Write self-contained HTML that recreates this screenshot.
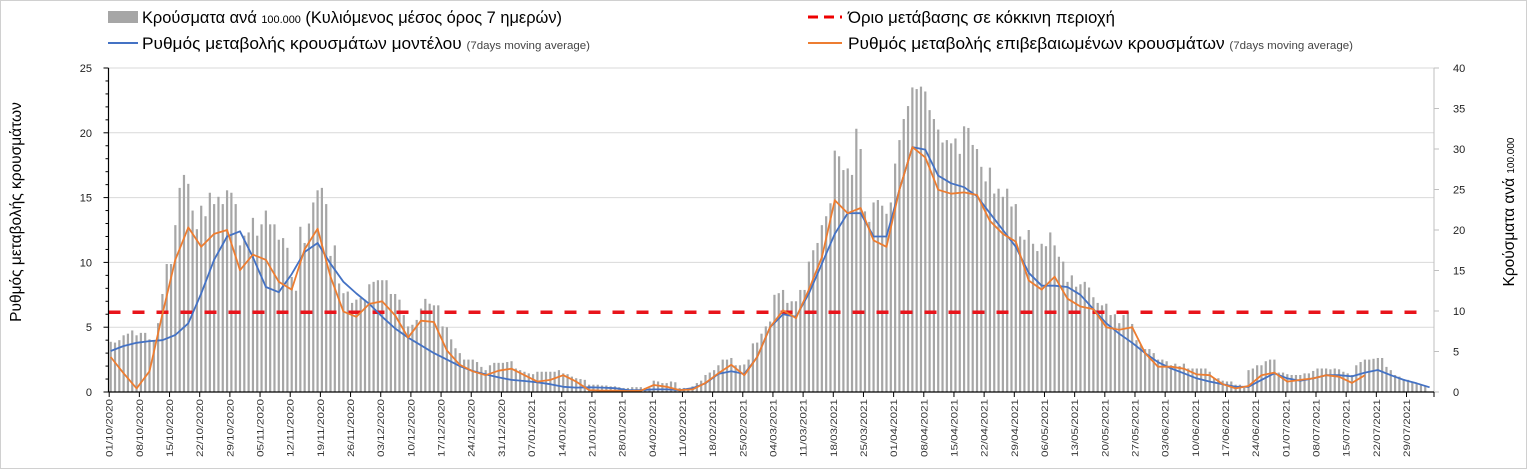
<!DOCTYPE html>
<html><head><meta charset="utf-8">
<style>
html,body{margin:0;padding:0;background:#fff;}
svg{display:block;font-family:"Liberation Sans","DejaVu Sans",sans-serif;}
</style></head>
<body>
<svg id="chart" width="1527" height="469" viewBox="0 0 1527 469" xmlns="http://www.w3.org/2000/svg">
<rect x="0.5" y="0.5" width="1526" height="468" fill="#fff" stroke="#d0d0d0"/>
<g id="grid"></g>
<g id="bars"></g>
<g id="thr"></g>
<g id="lines"></g>
<g id="axes"></g>
<g>
 <g>
  <rect x="108" y="11" width="30" height="12" fill="#a6a6a6"/>
  <text x="142" y="23" font-size="16.5" fill="#000" textLength="420" lengthAdjust="spacingAndGlyphs">Κρούσματα ανά <tspan font-size="11">100.000</tspan> (Κυλιόμενος μέσος όρος 7 ημερών)</text>
 </g>
 <g>
  <line x1="108" y1="43" x2="138" y2="43" stroke="#4472c4" stroke-width="2"/>
  <text x="142" y="49" font-size="16.5" fill="#000" textLength="448" lengthAdjust="spacingAndGlyphs">Ρυθμός μεταβολής κρουσμάτων μοντέλου <tspan font-size="11" fill="#444">(7days moving average)</tspan></text>
 </g>
 <g>
  <line x1="808" y1="17" x2="842" y2="17" stroke="#e00" stroke-width="3" stroke-dasharray="10,6"/>
  <text x="848" y="23" font-size="16.5" fill="#000" textLength="267" lengthAdjust="spacingAndGlyphs">Όριο μετάβασης σε κόκκινη περιοχή</text>
 </g>
 <g>
  <line x1="808" y1="43" x2="842" y2="43" stroke="#ed7d31" stroke-width="2"/>
  <text x="848" y="49" font-size="16.5" fill="#000" textLength="505" lengthAdjust="spacingAndGlyphs">Ρυθμός μεταβολής επιβεβαιωμένων κρουσμάτων <tspan font-size="11" fill="#444">(7days moving average)</tspan></text>
 </g>
</g>
<text transform="translate(21,212) rotate(-90)" text-anchor="middle" font-size="15.5">Ρυθμός μεταβολής κρουσμάτων</text>
<text transform="translate(1514,212) rotate(-90)" text-anchor="middle" font-size="15.5">Κρούσματα ανά <tspan font-size="10">100.000</tspan></text>
</svg>
<script>
const casesBars = [
6.2,6.1,6.4,7.0,7.2,7.6,7.0,7.3,7.3,6.5,
6.4,8.5,12.1,15.8,15.8,20.6,25.2,26.8,25.7,22.4,
20.1,23.0,21.7,24.6,23.2,24.1,23.2,24.9,24.6,23.2,
18.1,19.3,19.7,21.5,19.3,20.7,22.4,20.7,20.7,18.8,
19.0,17.8,14.2,12.5,20.4,18.4,20.8,23.4,24.9,25.2,
23.2,16.8,18.1,13.4,12.2,12.4,11.0,11.4,11.6,11.4,
13.3,13.6,13.8,13.8,13.8,12.1,12.1,11.4,9.5,8.1,
8.3,8.9,10.3,11.5,10.9,10.7,10.7,8.1,8.0,6.5,
5.4,4.8,4.0,4.0,4.0,3.7,3.1,2.7,3.3,3.6,
3.6,3.6,3.7,3.8,2.9,2.7,2.5,2.3,2.2,2.5,
2.5,2.5,
2.5,2.5,2.7,2.3,2.2,1.9,1.7,1.6,1.5,0.9,
0.9,0.9,0.8,0.8,0.7,0.7,0.6,0.5,0.5,0.6,
0.6,0.6,0.5,0.5,1.4,1.3,1.1,1.1,1.3,1.2,
0.5,0.5,0.5,0.7,1.1,1.4,2.1,2.4,2.7,3.3,
4.0,4.0,4.2,3.3,3.3,3.4,4.0,6.0,6.1,7.2,
8.1,8.7,12.0,12.2,12.6,11.0,11.2,11.2,12.6,12.6,
16.1,17.5,18.4,20.6,21.7,23.3,29.8,29.1,27.4,27.6,
26.8,32.5,30.0,22.3,21.0,23.4,23.7,23.0,22.0,23.4,
28.2,31.1,33.7,35.3,37.6,37.4,37.7,37.1,34.8,33.7,
32.4,30.8,31.1,30.7,31.3,29.4,32.8,32.6,30.5,30.0,
27.8,26.0,
27.7,24.5,25.1,24.1,25.1,22.9,23.2,19.2,18.8,20.0,
18.3,17.4,18.3,18.0,19.7,18.1,16.7,16.1,13.6,14.4,
13.0,13.3,13.6,12.9,11.7,11.0,10.7,10.9,9.5,9.6,
8.5,9.5,9.9,8.4,6.4,5.8,5.3,5.3,4.8,4.0,
4.0,3.8,3.3,3.5,3.2,3.5,2.9,2.9,2.9,2.9,
2.9,2.5,1.7,1.7,1.4,1.3,1.3,0.9,0.9,0.5,
2.7,2.9,3.3,3.3,3.8,4.0,4.0,2.4,2.4,2.2,
2.1,2.1,2.1,2.3,2.3,2.6,2.9,2.9,2.9,2.8,
2.9,2.8,2.5,2.3,2.1,3.3,3.7,4.0,4.0,4.1,
4.2,4.2,3.1,2.7,2.1,1.9,1.6,1.5,1.3,1.1,
0.9,0.7];
// line values sampled every 3 days
const modelRate = [3.16,3.55,3.8,3.93,4.0,4.4,5.3,7.6,10.2,12.0,12.4,10.4,8.1,7.7,9.1,10.8,11.5,9.9,8.5,7.6,6.8,5.8,4.9,4.2,3.6,3.0,2.5,2.0,1.62,1.36,1.13,0.93,0.85,0.75,
0.6,0.4,0.34,0.36,0.34,0.29,0.15,0.15,0.2,0.2,0.15,0.29,0.67,1.4,1.6,1.4,2.7,5.0,6.0,5.8,7.6,9.9,12.2,13.8,13.8,12.0,12.0,15.6,18.9,18.7,16.7,16.1,15.8,15.1,
13.8,12.5,11.2,9.2,8.2,8.2,8.1,7.5,6.4,5.3,4.5,3.8,3.0,2.3,1.82,1.44,1.05,0.8,0.6,0.4,0.4,0.93,1.44,1.05,0.87,1.05,1.3,1.3,1.2,1.5,1.7,1.3,0.93,0.67,0.36];
const confirmedRate = [2.7,1.44,0.28,1.6,6.0,10.2,12.7,11.2,12.2,12.5,9.4,10.6,10.2,8.5,7.9,11.0,12.6,8.9,6.2,5.8,6.8,7.0,5.9,4.2,5.5,5.4,3.2,2.1,1.6,1.3,1.64,1.8,1.3,0.8,
0.93,1.3,0.8,0.15,0.1,0.1,0.08,0.1,0.54,0.4,0.15,0.2,0.7,1.44,2.1,1.3,2.7,5.0,6.3,5.7,7.9,10.4,14.8,13.8,14.2,11.7,11.2,15.6,18.9,18.1,15.6,15.3,15.4,15.2,
13.2,12.2,11.6,8.6,7.9,8.9,7.2,6.6,6.4,5.0,4.8,5.0,3.0,1.95,1.95,1.8,1.36,1.3,0.6,0.28,0.46,1.3,1.5,0.8,0.93,1.05,1.3,1.18,0.7,1.3];
const thresholdValue = 6.15;
const leftTicks = [0,5,10,15,20,25];
const rightTicks = [0,5,10,15,20,25,30,35,40];
const weekLabels = ["01/10/2020","08/10/2020","15/10/2020","22/10/2020","29/10/2020","05/11/2020","12/11/2020","19/11/2020","26/11/2020","03/12/2020","10/12/2020","17/12/2020","24/12/2020","31/12/2020","07/01/2021","14/01/2021","21/01/2021","28/01/2021","04/02/2021","11/02/2021","18/02/2021","25/02/2021","04/03/2021","11/03/2021","18/03/2021","25/03/2021","01/04/2021","08/04/2021","15/04/2021","22/04/2021","29/04/2021","06/05/2021","13/05/2021","20/05/2021","27/05/2021","03/06/2021","10/06/2021","17/06/2021","24/06/2021","01/07/2021","08/07/2021","15/07/2021","22/07/2021","29/07/2021"];

const NS="http://www.w3.org/2000/svg";
const X0=108.5, X1=1434, Y0=392, Y1=68;
const dayW=4.31;
const xDay = d => 110.7 + d*dayW;
const yL = v => Y0 - v/25*(Y0-Y1);
const yR = v => Y0 - v/40*(Y0-Y1);
function mk(tag, attrs, parent){const e=document.createElementNS(NS,tag);for(const k in attrs)e.setAttribute(k,attrs[k]);parent.appendChild(e);return e;}
const grid=document.getElementById('grid'), bars=document.getElementById('bars'), lines=document.getElementById('lines'), axes=document.getElementById('axes'), thr=document.getElementById('thr');

leftTicks.forEach(t=>{ if(t===0) return;
  const g=mk('line',{x1:X0,x2:X1,y1:yL(t),y2:yL(t),stroke:'#d9d9d9','stroke-width':1},grid);
  
  
});
casesBars.forEach((v,i)=>{
  const r=mk('rect',{x:xDay(i)-1.1,y:yR(v),width:2.2,height:Y0-yR(v),fill:'#a6a6a6'},bars);
  
  
});
const tl=mk('line',{x1:X0,x2:X1-8,y1:yL(thresholdValue),y2:yL(thresholdValue),stroke:'#e8141b','stroke-width':3.5,'stroke-dasharray':'12,12'},thr);


function pl(arr,color,name){
  const pts=arr.map((v,i)=>xDay(i*3).toFixed(1)+','+yL(v).toFixed(1)).join(' ');
  const p=mk('polyline',{points:pts,fill:'none',stroke:color,'stroke-width':1.8,'stroke-linejoin':'round'},lines);
  
  
}
pl(modelRate,'#4472c4','model-rate-line');
pl(confirmedRate,'#ed7d31','confirmed-rate-line');

const la=mk('line',{x1:X0,x2:X0,y1:Y1,y2:Y0,stroke:'#000','stroke-width':1.2},axes);


for(let v=0;v<=25;v++){
  const m=mk('line',{x1:v%5===0?X0-5:X0-3,x2:X0,y1:yL(v),y2:yL(v),stroke:'#000','stroke-width':1},axes);
  
  
}
leftTicks.forEach(t=>{
  const tx=mk('text',{x:92,y:yL(t)+4,'text-anchor':'end','font-size':11,fill:'#222'},axes);
  tx.textContent=t;
  
  
});
const ra=mk('line',{x1:X1,x2:X1,y1:Y1,y2:Y0,stroke:'#bfbfbf','stroke-width':1},axes);


rightTicks.forEach(t=>{
  const m=mk('line',{x1:X1,x2:X1+5,y1:yR(t),y2:yR(t),stroke:'#bfbfbf','stroke-width':1},axes);
  
  
  const tx=mk('text',{x:1453,y:yR(t)+4,'font-size':11,fill:'#222'},axes);
  tx.textContent=t;
  
  
});
const xa=mk('line',{x1:X0,x2:X1,y1:Y0,y2:Y0,stroke:'#000','stroke-width':1.2},axes);


weekLabels.forEach((lab,i)=>{
  const x=xDay(i*7)-1.5;
  const m=mk('line',{x1:x,x2:x,y1:Y0,y2:Y0+5,stroke:'#000','stroke-width':1},axes);
  
  
  const tx=mk('text',{transform:`translate(${x+3.5},399) rotate(-90)`,'text-anchor':'end','font-size':9.5,fill:'#333',textLength:58,lengthAdjust:'spacingAndGlyphs'},axes);
  tx.textContent=lab;
  
  
});
const endTick=mk('line',{x1:X1,x2:X1,y1:Y0,y2:Y0+5,stroke:'#000','stroke-width':1},axes);


</script>
</body></html>
